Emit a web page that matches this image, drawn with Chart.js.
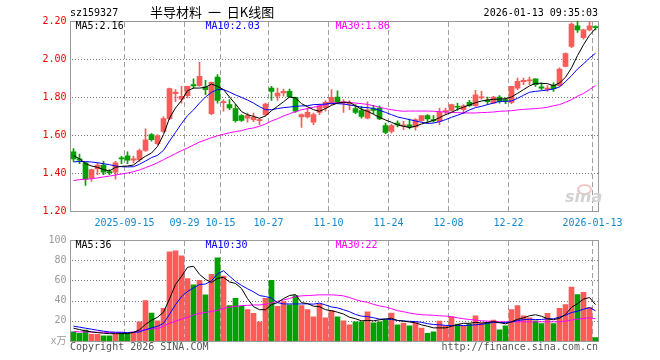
<!DOCTYPE html>
<html>
<head>
<meta charset="utf-8">
<script src="https://cdn.jsdelivr.net/npm/chart.js@4.4.1/dist/chart.umd.min.js"></script>
<style>
  body { margin: 0; background: #fff; width: 660px; height: 360px; overflow: hidden; position: relative; font-family: "DejaVu Sans Mono", monospace; }
  .t { position: absolute; font-size: 10px; line-height: 12px; white-space: pre; color: #000; }
  #kbox { position: absolute; left: 0; top: 0; width: 660px; height: 232px; }
  #vbox { position: absolute; left: 0; top: 230px; width: 660px; height: 130px; }
  #eye { position: absolute; left: 577px; top: 184px; width: 11px; height: 7px; border-radius: 50%; border: 2px solid #f0b8b8; opacity: 0.8; }
</style>
</head>
<body>
<div id="kbox"><canvas id="kline" width="660" height="232"></canvas></div>
<div id="vbox"><canvas id="vol" width="660" height="130"></canvas></div>
<div class="t" style="left:70px;top:7px">sz159327</div>
<div class="t" style="left:150px;top:4px;font-size:13px;line-height:15px;font-family:'Noto Sans CJK SC';word-spacing:3px">半导材料 一 日K线图</div>
<div class="t" style="right:62px;top:7px">2026-01-13 09:35:03</div>
<div class="t" style="left:70px;top:341px;color:#555">Copyright 2026 SINA.COM</div>
<div class="t" style="right:62px;top:341px;color:#555">http://finance.sina.com.cn</div>
<div id="eye"></div>
<div class="t" style="left:565px;top:189px;font:italic bold 16px 'DejaVu Sans';line-height:16px;color:#d2d2d2">sina</div>
<script>
var dates = [
  '2025-09-02','2025-09-03','2025-09-04','2025-09-05','2025-09-08','2025-09-09','2025-09-10','2025-09-11','2025-09-12',
  '2025-09-15','2025-09-16','2025-09-17','2025-09-18','2025-09-19','2025-09-22','2025-09-23','2025-09-24','2025-09-25',
  '2025-09-26','2025-09-29','2025-09-30',
  '2025-10-09','2025-10-10','2025-10-13','2025-10-14','2025-10-15','2025-10-16','2025-10-17','2025-10-20','2025-10-21',
  '2025-10-22','2025-10-23','2025-10-24','2025-10-27','2025-10-28','2025-10-29','2025-10-30','2025-10-31',
  '2025-11-03','2025-11-04','2025-11-05','2025-11-06','2025-11-07','2025-11-10','2025-11-11','2025-11-12','2025-11-13',
  '2025-11-14','2025-11-17','2025-11-18','2025-11-19','2025-11-20','2025-11-21','2025-11-24','2025-11-25','2025-11-26',
  '2025-11-27','2025-11-28',
  '2025-12-01','2025-12-02','2025-12-03','2025-12-04','2025-12-05','2025-12-08','2025-12-09','2025-12-10','2025-12-11',
  '2025-12-12','2025-12-15','2025-12-16','2025-12-17','2025-12-18','2025-12-19','2025-12-22','2025-12-23','2025-12-24',
  '2025-12-25','2025-12-26','2025-12-29','2025-12-30','2025-12-31',
  '2026-01-05','2026-01-06','2026-01-07','2026-01-08','2026-01-09','2026-01-12','2026-01-13'
];
var tickDates = ['2025-09-15','2025-09-29','2025-10-15','2025-10-27','2025-11-10','2025-11-24','2025-12-08','2025-12-22','2026-01-13'];
var tickLabels = ['2025-09-15','09-29','10-15','10-27','11-10','11-24','12-08','12-22','2026-01-13'];
var priceTicks = [1.2, 1.4, 1.6, 1.8, 2.0, 2.2];
var volTicks = [0, 20, 40, 60, 80, 100];

var open = [1.511,1.474,1.453,1.374,1.421,1.442,1.407,1.404,1.477,1.491,1.467,1.470,1.519,1.602,1.554,1.619,1.686,1.818,1.789,1.807,
  1.865,1.860,1.853,1.712,1.905,1.770,1.760,1.739,1.702,1.689,1.681,1.675,1.707,1.847,1.804,1.821,1.830,1.798,1.695,1.695,
  1.667,1.719,1.742,1.765,1.800,1.768,1.763,1.739,1.728,1.689,1.739,1.742,1.649,1.619,1.663,1.646,1.653,1.642,1.675,1.702,
  1.681,1.672,1.721,1.730,1.751,1.733,1.772,1.754,1.795,1.784,1.768,1.800,1.786,1.772,1.847,1.881,1.884,1.895,1.854,1.840,
  1.861,1.860,1.961,2.066,2.175,2.112,2.153,2.168];
var high = [1.528,1.500,1.456,1.421,1.453,1.461,1.418,1.461,1.488,1.511,1.488,1.526,1.633,1.607,1.602,1.695,1.847,1.839,1.856,1.858,
  1.895,1.982,1.888,1.879,1.918,1.786,1.786,1.760,1.707,1.716,1.716,1.686,1.768,1.856,1.847,1.842,1.842,1.800,1.712,1.742,
  1.716,1.763,1.781,1.839,1.833,1.786,1.781,1.760,1.751,1.774,1.756,1.754,1.663,1.658,1.674,1.672,1.684,1.686,1.702,1.707,
  1.702,1.742,1.742,1.763,1.768,1.760,1.782,1.835,1.830,1.800,1.804,1.807,1.795,1.856,1.900,1.900,1.905,1.895,1.874,1.860,
  1.874,1.953,2.032,2.190,2.200,2.158,2.196,2.175];
var low = [1.461,1.449,1.335,1.356,1.391,1.391,1.391,1.368,1.449,1.449,1.453,1.461,1.514,1.567,1.549,1.614,1.681,1.775,1.768,1.795,
  1.847,1.856,1.812,1.707,1.768,1.725,1.733,1.667,1.672,1.667,1.670,1.654,1.702,1.782,1.782,1.804,1.800,1.719,1.640,1.689,
  1.654,1.707,1.725,1.760,1.768,1.719,1.733,1.712,1.689,1.684,1.712,1.681,1.607,1.610,1.642,1.628,1.632,1.625,1.672,1.663,
  1.667,1.654,1.707,1.725,1.730,1.712,1.751,1.751,1.789,1.760,1.765,1.768,1.765,1.765,1.839,1.865,1.865,1.856,1.839,1.830,
  1.830,1.856,1.958,2.060,2.140,2.105,2.148,2.153];
var close = [1.474,1.468,1.368,1.418,1.442,1.405,1.402,1.453,1.474,1.467,1.475,1.518,1.575,1.575,1.596,1.686,1.844,1.826,1.804,1.856,
  1.858,1.909,1.839,1.877,1.782,1.775,1.742,1.675,1.677,1.702,1.693,1.681,1.763,1.830,1.821,1.830,1.800,1.725,1.707,1.719,
  1.707,1.754,1.772,1.798,1.772,1.775,1.772,1.719,1.698,1.733,1.730,1.684,1.614,1.649,1.653,1.653,1.642,1.681,1.702,1.684,
  1.675,1.719,1.728,1.760,1.746,1.754,1.754,1.812,1.800,1.775,1.800,1.777,1.779,1.856,1.882,1.888,1.891,1.865,1.847,1.847,
  1.844,1.947,2.028,2.184,2.153,2.153,2.175,2.165];

var ma5 = [1.491,1.475,1.449,1.437,1.430,1.418,1.411,1.430,1.435,1.437,1.442,1.467,1.488,1.505,1.540,1.602,1.689,1.742,1.782,1.833,
  1.847,1.847,1.851,1.868,1.856,1.839,1.800,1.763,1.723,1.707,1.698,1.688,1.700,1.728,1.751,1.775,1.800,1.795,1.765,1.749,
  1.733,1.725,1.739,1.756,1.768,1.772,1.772,1.754,1.735,1.725,1.709,1.693,1.679,1.667,1.653,1.646,1.639,1.646,1.658,1.667,
  1.677,1.691,1.707,1.719,1.735,1.747,1.758,1.770,1.779,1.784,1.788,1.789,1.791,1.800,1.819,1.839,1.858,1.872,1.872,1.870,
  1.860,1.874,1.904,1.953,2.018,2.075,2.125,2.160];
var ma10 = [1.458,1.461,1.460,1.458,1.454,1.449,1.444,1.437,1.433,1.432,1.433,1.446,1.463,1.481,1.493,1.519,1.568,1.614,1.660,1.702,
  1.732,1.768,1.800,1.825,1.839,1.839,1.826,1.811,1.798,1.784,1.768,1.749,1.733,1.733,1.739,1.744,1.747,1.751,1.753,1.754,
  1.760,1.761,1.763,1.767,1.765,1.763,1.758,1.753,1.746,1.744,1.740,1.730,1.719,1.707,1.695,1.688,1.681,1.674,1.667,1.661,
  1.663,1.670,1.681,1.693,1.704,1.716,1.732,1.744,1.751,1.760,1.768,1.777,1.777,1.779,1.793,1.809,1.825,1.830,1.833,1.837,
  1.842,1.853,1.881,1.912,1.947,1.975,2.005,2.030];
var ma30 = [1.360,1.365,1.367,1.370,1.374,1.379,1.384,1.389,1.395,1.400,1.407,1.416,1.428,1.440,1.454,1.470,1.486,1.502,1.518,1.532,
  1.547,1.563,1.574,1.586,1.596,1.604,1.612,1.618,1.623,1.632,1.637,1.646,1.658,1.674,1.686,1.700,1.712,1.723,1.733,1.739,
  1.746,1.753,1.760,1.767,1.770,1.774,1.770,1.768,1.765,1.761,1.754,1.746,1.739,1.733,1.728,1.725,1.726,1.726,1.726,1.726,
  1.725,1.723,1.721,1.719,1.718,1.716,1.716,1.716,1.718,1.719,1.721,1.725,1.726,1.728,1.732,1.735,1.737,1.739,1.742,1.746,
  1.754,1.760,1.772,1.786,1.804,1.819,1.839,1.860];

var vol = [9,7.7,10.7,6.7,6.7,5,5,6.7,7.7,7.7,8.3,19,40,27.7,20,32.3,88.3,89.3,84.3,61.7,
  55.7,60,45.7,66,82.3,64.3,35,42.3,34.3,31,27.3,19,42.3,60,34.3,39,35.7,45,35,31,
  24,36.7,23,30,24,20,16,19,19,29,18,19,21,27.7,16,17.7,15,18.3,12.7,7.7,
  9,19.7,15,24,16.7,14.7,16.7,25,17.7,18.3,20.7,11,15,31,35,25,23,20,17.3,27.3,
  17.3,32.3,36,53.3,46,48.3,33.3,3.3];
var volMa5 = [12.7,11.3,10,9,8.3,7.7,7.3,7.3,7.3,7.3,8.5,11,16.5,20.5,23.5,28.5,41.7,56,64,73,
  74,66,61,58,62,63,58.5,57,52,42,34,31,31,36,38,42,45,46,38,37,
  34.5,34,31,30,28.5,26.7,23.5,22,20,20.3,20,21,21.8,22.5,20.3,19.8,18.8,18,16,14.6,
  13,13,13,14.5,16.3,17.5,17.5,18.5,17.8,18.3,19.2,18.2,17,19,21.5,22.8,25,26,24.5,22,
  21,22.5,26.3,33.3,37,41.5,43,36];
var volMa10 = [14.7,13.7,12.7,11.7,10.7,9.7,9,8.7,8.7,8.3,8.6,9,11.2,13,14.5,17.5,26.5,36,44,49,
  52.5,56,56.4,59.5,66.6,69.5,64.2,59,55,51.7,48.7,45,44,42.5,38,36.7,36.7,36.7,36.7,36.8,
  36.5,37.5,35.7,33.7,32.8,31,29,26.3,24.6,24.2,23,21.7,21.6,21.3,20.4,19.8,19.5,19.2,18.5,17.2,
  16.3,16,15.5,15.3,15.3,15.3,15.6,16,16.5,17.5,18.4,18.1,18.3,18.8,20.3,21.1,21.5,21.2,21.3,22,
  22,23.7,25.5,28.2,29.5,31.5,33,30];
var volMa30 = [9.3,9,9,8.8,8.7,8.7,8.3,8.3,8.3,8.3,9,10.3,11.3,12,12.3,14.7,17.7,19.7,21.7,23.3,
  26,27.3,28.3,29.3,30.3,32.3,33.7,34.3,35,35.3,35.7,35.7,36.3,37.7,39.3,40.7,42,44,44.7,45,
  45.3,45.7,45.7,45.7,45.3,44.7,43,41,39.3,38.3,36.3,34.7,33.7,32,30,29,27.7,26.7,26,25.7,
  25.5,25,24.7,24,23,22,21.3,20.7,20,19.7,19.3,19,19,19,19,19,19,19,19,19,
  19,19,19.7,20.7,21.7,22.3,23,22];

var UP = '#ff5a5a', DOWN = '#00a000';
var FONT = "'DejaVu Sans Mono', 'Noto Sans CJK SC', monospace";
var tickIdx = tickDates.map(function (d) { return dates.indexOf(d); });

function candleColor(i) { return close[i] >= open[i] ? UP : DOWN; }

function xAxis(showLabels, h) {
  return {
    type: 'category',
    offset: true,
    afterFit: function (s) { s.height = h; },
    grid: { display: false, drawTicks: false },
    border: { display: false },
    ticks: { display: showLabels, autoSkip: false, maxRotation: 0, padding: 6, labelOffset: -3,
      color: '#1388d2', font: { size: 10, family: FONT },
      callback: function (v, i) { var k = tickIdx.indexOf(i); return k >= 0 ? tickLabels[k] : ''; } }
  };
}

function yAxis(vals, color, fmt) {
  return {
    min: vals[0], max: vals[vals.length - 1],
    afterBuildTicks: function (s) { s.ticks = vals.map(function (v) { return { value: v }; }); },
    afterFit: function (s) { s.width = 70; },
    grid: { display: false, drawTicks: false },
    border: { display: false },
    ticks: { color: color, padding: 4, font: { size: 10, family: FONT }, callback: fmt }
  };
}

function line(data, color) {
  return { type: 'line', data: data, borderColor: color, backgroundColor: color, fill: false,
    borderWidth: 1, pointRadius: 0, tension: 0, order: 0 };
}

// grid, frame and MA captions, placed through the chart's own scales
function panelPlugin(yVals, labels) {
  return {
    id: 'panel',
    beforeDatasetsDraw: function (chart) {
      var a = chart.chartArea, ctx = chart.ctx, xs = chart.scales.x, ys = chart.scales.y;
      var half = (xs.getPixelForValue(1) - xs.getPixelForValue(0)) / 2;
      var L = Math.floor(a.left), R = Math.floor(a.right), T = Math.floor(a.top), B = Math.floor(a.bottom);
      ctx.save();
      ctx.fillStyle = '#7a7a7a';
      yVals.slice(1, -1).forEach(function (v) {
        var y = Math.round(ys.getPixelForValue(v));
        for (var x = L + 2; x < R; x += 3) ctx.fillRect(x, y, 1, 1);
      });
      ctx.fillStyle = '#a0a0a0';
      tickIdx.forEach(function (i) {
        var x = Math.floor(xs.getPixelForValue(i) - half);
        for (var y = T + 1; y < B; y += 8) ctx.fillRect(x, y, 1, Math.min(5, B - y));
      });
      ctx.strokeStyle = '#9a9a9a';
      ctx.lineWidth = 1;
      ctx.strokeRect(L + 0.5, T + 0.5, R - L, B - T);
      ctx.restore();
    },
    afterDraw: function (chart) {
      var a = chart.chartArea, ctx = chart.ctx;
      ctx.save();
      ctx.font = '10px ' + FONT;
      ctx.textBaseline = 'middle';
      labels.forEach(function (l, k) {
        ctx.fillStyle = l.color;
        ctx.fillText(l.text, a.left + 5 + 130 * k, a.top + 5);
      });
      ctx.restore();
    }
  };
}

var last = dates.length - 1;

new Chart(document.getElementById('kline'), {
  type: 'bar',
  data: {
    labels: dates,
    datasets: [
      line(ma5, '#000000'), line(ma10, '#0000ff'), line(ma30, '#ff00ff'),
      { data: open.map(function (o, i) { return [o, close[i]]; }), barThickness: 5, minBarLength: 1, grouped: false,
        backgroundColor: function (c) { return candleColor(c.dataIndex); }, borderWidth: 0, order: 1 },
      { data: low.map(function (l, i) { return [l, high[i]]; }), barThickness: 1, grouped: false,
        backgroundColor: function (c) { return candleColor(c.dataIndex); }, borderWidth: 0, order: 2 }
    ]
  },
  options: {
    responsive: false, animation: false, devicePixelRatio: 1,
    layout: { padding: { left: 0.5, right: 61.5, top: 21, bottom: 0 } },
    plugins: { legend: { display: false }, tooltip: { enabled: false } },
    scales: {
      x: xAxis(true, 21),
      y: yAxis(priceTicks, '#ee0000', function (v) { return v.toFixed(2); })
    }
  },
  plugins: [panelPlugin(priceTicks, [
    { text: 'MA5:' + ma5[last].toFixed(2), color: '#000000' },
    { text: 'MA10:' + ma10[last].toFixed(2), color: '#0000ff' },
    { text: 'MA30:' + ma30[last].toFixed(2), color: '#ff00ff' }
  ])]
});

new Chart(document.getElementById('vol'), {
  type: 'bar',
  data: {
    labels: dates,
    datasets: [
      line(volMa5, '#000000'), line(volMa10, '#0000ff'), line(volMa30, '#ff00ff'),
      { data: vol, barThickness: 5, backgroundColor: function (c) { return candleColor(c.dataIndex); },
        borderWidth: 0, order: 1 }
    ]
  },
  options: {
    responsive: false, animation: false, devicePixelRatio: 1,
    layout: { padding: { left: 0.5, right: 61.5, top: 10, bottom: 0 } },
    plugins: { legend: { display: false }, tooltip: { enabled: false } },
    scales: {
      x: xAxis(false, 19),
      y: yAxis(volTicks, '#999999', function (v) { return v === 0 ? 'x万' : String(v); })
    }
  },
  plugins: [panelPlugin(volTicks, [
    { text: 'MA5:' + Math.round(volMa5[last]), color: '#000000' },
    { text: 'MA10:' + Math.round(volMa10[last]), color: '#0000ff' },
    { text: 'MA30:' + Math.round(volMa30[last]), color: '#ff00ff' }
  ])]
});
</script>
</body>
</html>
